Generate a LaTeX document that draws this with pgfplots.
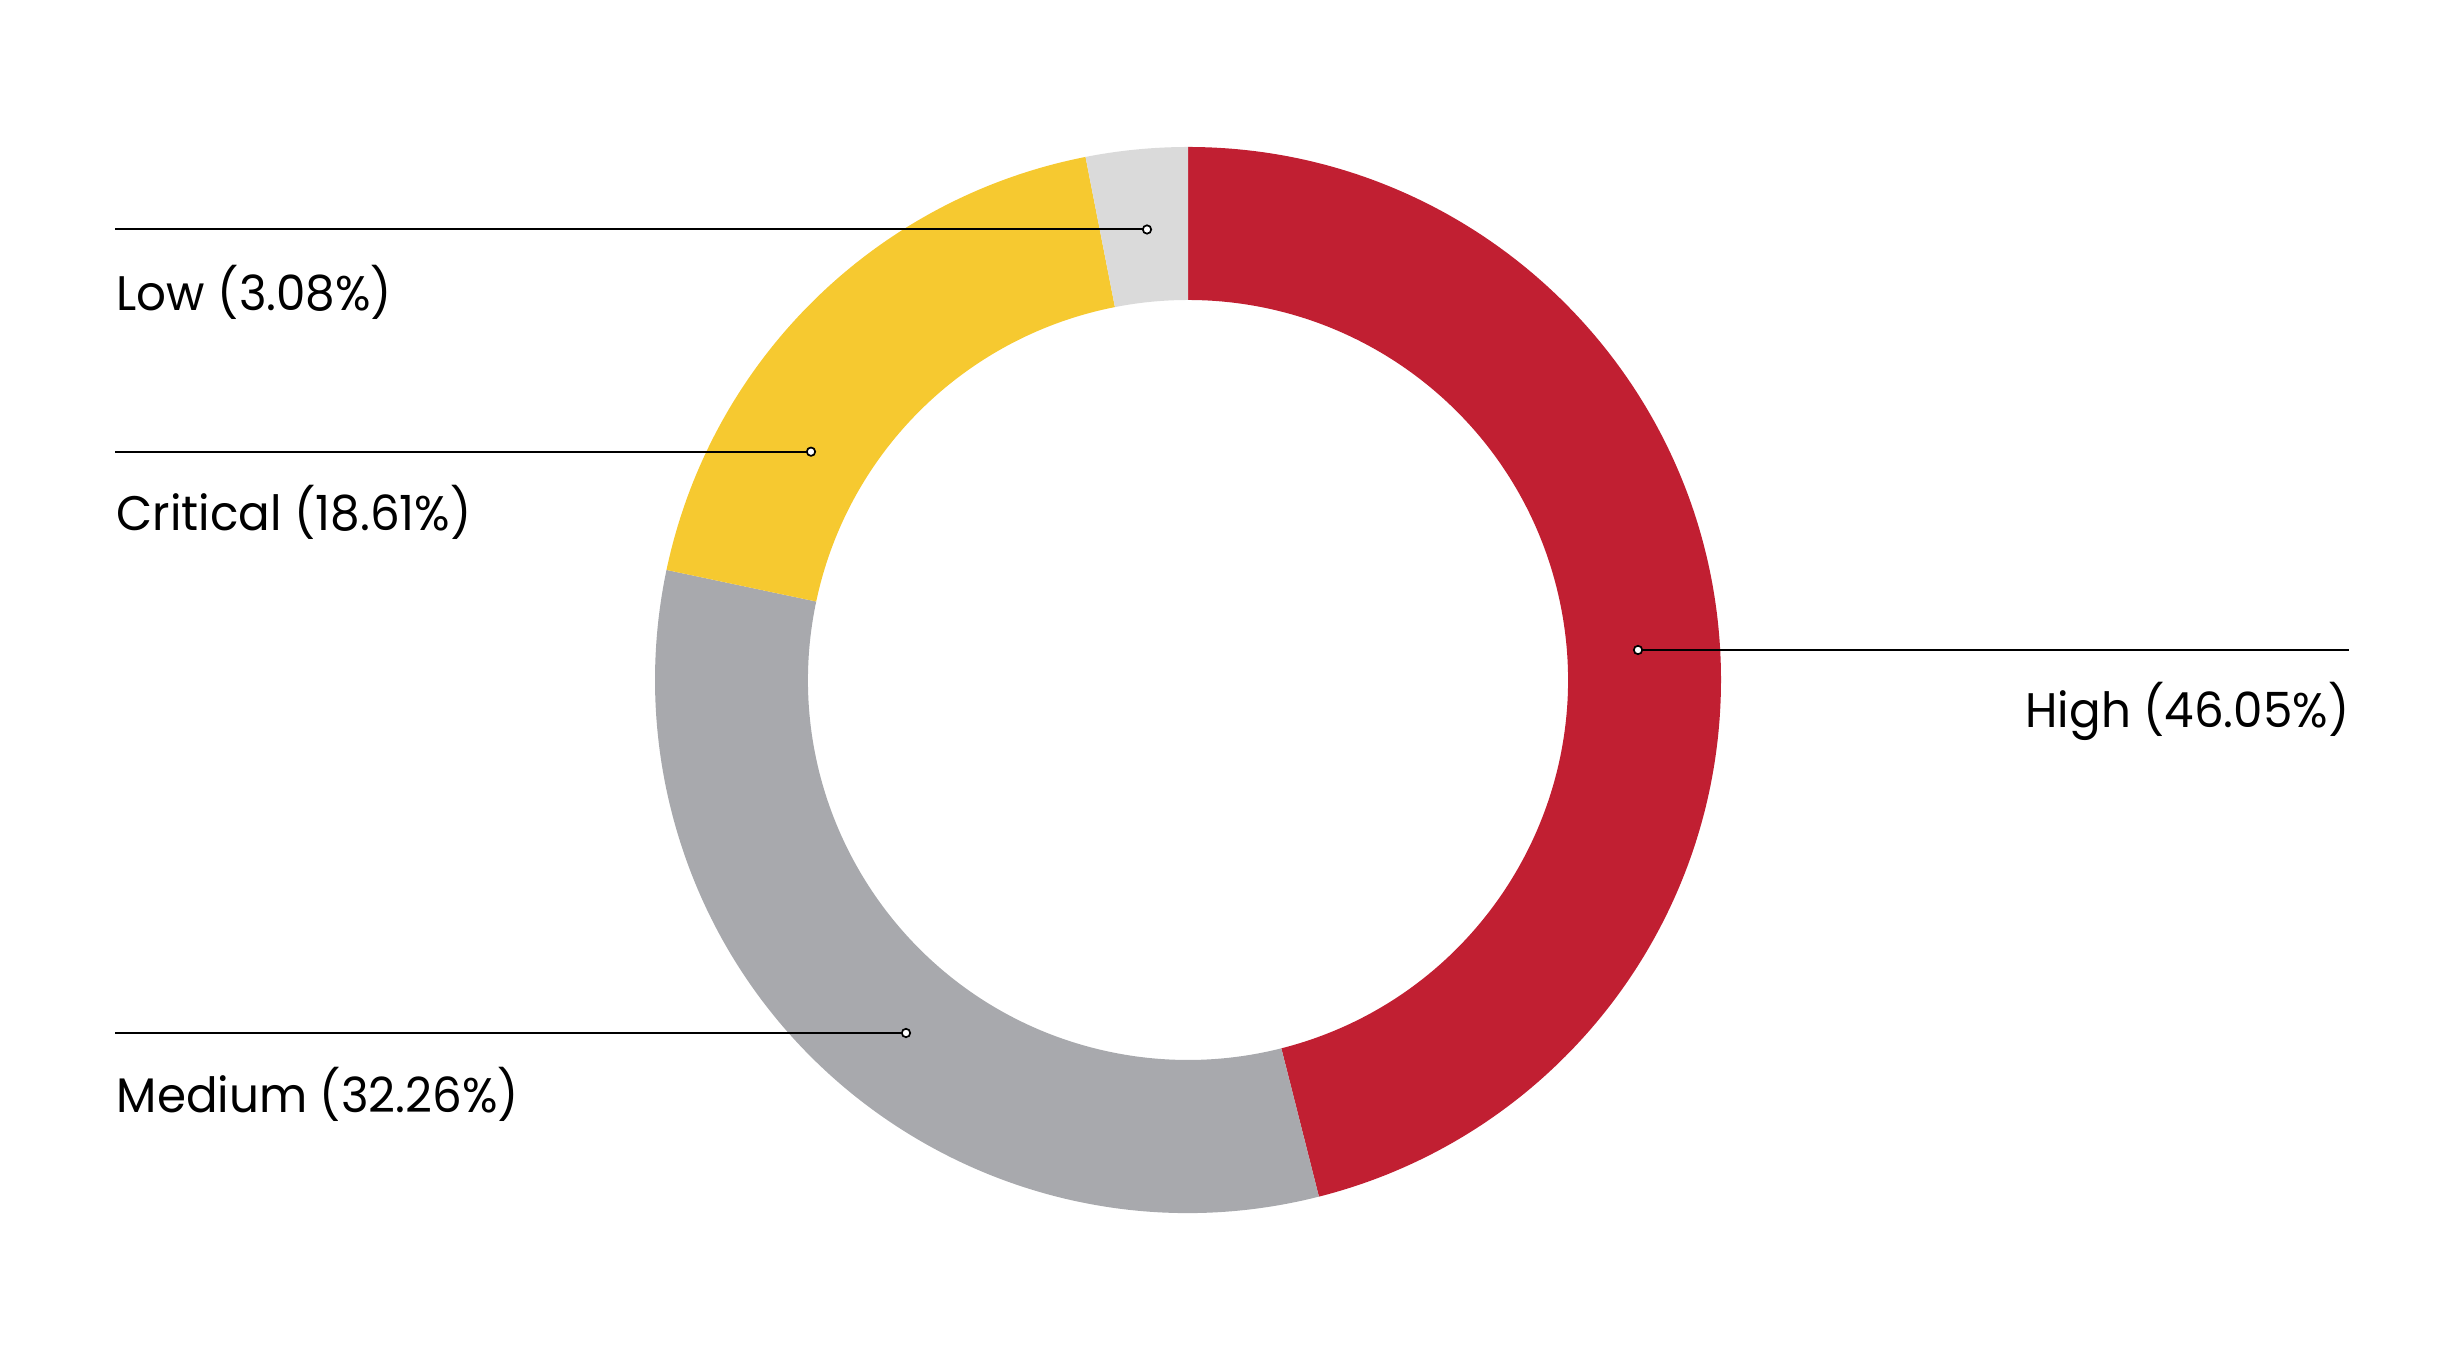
\documentclass[border=0pt]{standalone}
\usepackage{pgfplots}
\usepackage{pgfplotstable}
\pgfplotsset{compat=1.18}
\usepackage{fontspec}
\setmainfont{Poppins}[FakeStretch=0.965]
\definecolor{cHigh}{HTML}{C11F32}
\definecolor{cMed}{HTML}{A8A9AD}
\definecolor{cCrit}{HTML}{F6C930}
\definecolor{cLow}{HTML}{DADADA}

\pgfplotstableread{
name value
High 46.05
Medium 32.26
Critical 18.61
Low 3.08
}\slices

\newcommand\donutwedge[3]{%
  \fill[#1] (axis cs:1188,677) ++(#2:5.33cm) arc[start angle=#2,end angle=#3,radius=5.33cm]
    -- ++(#3:-1.53cm) arc[start angle=#3,end angle=#2,radius=3.80cm] -- cycle;}

\begin{document}
\begin{tikzpicture}
\pgfplotstablegetelem{0}{value}\of\slices \let\vH\pgfplotsretval
\pgfplotstablegetelem{1}{value}\of\slices \let\vM\pgfplotsretval
\pgfplotstablegetelem{2}{value}\of\slices \let\vC\pgfplotsretval
\pgfplotstablegetelem{3}{value}\of\slices \let\vL\pgfplotsretval
\pgfmathsetmacro\aS{90}
\pgfmathsetmacro\aH{\aS-3.6*\vH}
\pgfmathsetmacro\aM{\aH-3.6*\vM}
\pgfmathsetmacro\aC{\aM-3.6*\vC}
\pgfmathsetmacro\aL{\aC-3.6*\vL}
\begin{axis}[
  scale only axis, width=24.5cm, height=13.57cm,
  xmin=0, xmax=2450, ymin=0, ymax=1357,
  hide axis, clip=false,
]
\path (axis cs:0,0) rectangle (axis cs:2450,1357);
\donutwedge{cHigh}{\aS}{\aH}
\donutwedge{cMed}{\aH}{\aM}
\donutwedge{cCrit}{\aM}{\aC}
\donutwedge{cLow}{\aC}{\aL}

\pgfplotsset{leader/.style={black, line width=0.02cm, mark=*, mark size=0.042cm,
   mark options={fill=white, line width=0.017cm}}}
\addplot[leader, mark indices={2}] coordinates {(115,1127.5) (1147,1127.5)};
\addplot[leader, mark indices={2}] coordinates {(115,905.3) (811,905.3)};
\addplot[leader, mark indices={2}] coordinates {(115,324) (906,324)};
\addplot[leader, mark indices={1}] coordinates {(1638,707) (2349,707)};

\begin{scope}[every node/.style={inner sep=0pt, font=\fontsize{13.8}{16}\selectfont}]
\node[anchor=base west] at (axis cs:116,1046.3) {Low (3.08\%)};
\node[anchor=base west] at (axis cs:116,826.3) {Critical (18.61\%)};
\node[anchor=base west] at (axis cs:116,244.3) {Medium (32.26\%)};
\node[anchor=base east] at (axis cs:2350,629) {High (46.05\%)};
\end{scope}
\end{axis}
\end{tikzpicture}
\end{document}
